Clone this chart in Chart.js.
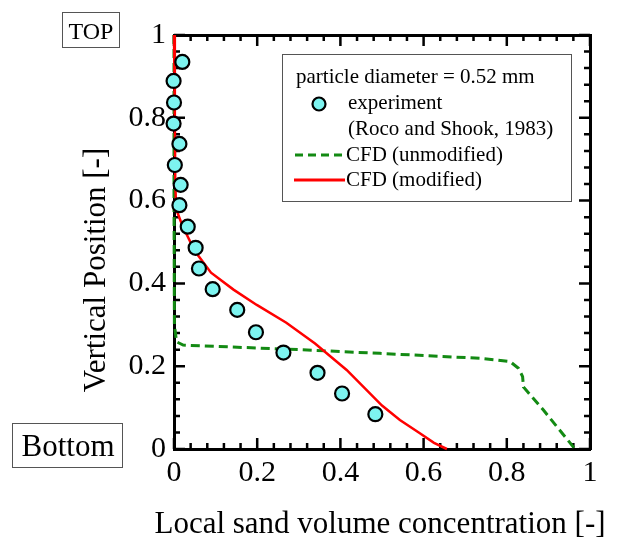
<!DOCTYPE html>
<html>
<head>
<meta charset="utf-8">
<script src="https://cdn.jsdelivr.net/npm/chart.js@4.4.0/dist/chart.umd.min.js"></script>
<style>
  body { margin: 0; background: #fff; }
  #wrap { width: 621px; height: 540px; }
</style>
</head>
<body>
<div id="wrap"><canvas id="chart" width="621" height="540"></canvas></div>
<script>
// Experiment (Roco and Shook, 1983)
const expX = [0.020, -0.001, 0.000, -0.001, 0.013, 0.002, 0.016, 0.013, 0.033, 0.052, 0.060, 0.093, 0.152, 0.197, 0.263, 0.345, 0.404, 0.484];
const expY = [0.935, 0.889, 0.837, 0.786, 0.737, 0.686, 0.638, 0.589, 0.537, 0.486, 0.436, 0.386, 0.336, 0.282, 0.233, 0.184, 0.134, 0.084];

// CFD (modified)
const modX = [0.000, 0.002, 0.003, 0.005, 0.020, 0.050, 0.089, 0.143, 0.199, 0.270, 0.339, 0.415, 0.500, 0.543, 0.591, 0.625, 0.656];
const modY = [1.000, 0.800, 0.650, 0.580, 0.540, 0.478, 0.426, 0.385, 0.348, 0.305, 0.255, 0.191, 0.105, 0.070, 0.038, 0.015, 0.000];

// CFD (unmodified)
const unmodX = [0.000, 0.000, 0.001, 0.006, 0.022, 0.300, 0.495, 0.736, 0.808, 0.828, 0.838, 0.840, 0.888, 0.964];
const unmodY = [1.000, 0.600, 0.300, 0.259, 0.251, 0.240, 0.231, 0.219, 0.211, 0.195, 0.175, 0.150, 0.094, 0.000];

const tickValues = [0, 0.2, 0.4, 0.6, 0.8, 1];

const serif = '"Liberation Serif", "Times New Roman", serif';

function pts(xs, ys) {
    return xs.map((x, i) => ({ x: x, y: ys[i] }));
}

function fmt(v) {
    return String(Math.round(v * 10) / 10);
}

// Inward ticks on all four sides
const tickMarks = {
    id: 'tickMarks',
    beforeDatasetsDraw(chart) {
        const { ctx, chartArea: a, scales } = chart;
        ctx.save();
        ctx.strokeStyle = '#000';
        ctx.lineWidth = 2.5;
        for (let i = 0; i <= 25; i++) {
            const v = i * 0.04;
            const major = i % 5 === 0;
            const len = major ? 11 : 6;
            const px = scales.x.getPixelForValue(v);
            const py = scales.y.getPixelForValue(v);
            ctx.beginPath();
            ctx.moveTo(px, a.bottom); ctx.lineTo(px, a.bottom - len);
            ctx.moveTo(px, a.top); ctx.lineTo(px, a.top + len);
            ctx.moveTo(a.left, py); ctx.lineTo(a.left + len, py);
            ctx.moveTo(a.right, py); ctx.lineTo(a.right - len, py);
            ctx.stroke();
        }
        ctx.restore();
    }
};

// Titles, TOP/Bottom labels and legend box
const decorations = {
    id: 'decorations',
    afterDraw(chart) {
        const { ctx, chartArea: a } = chart;
        ctx.save();
        ctx.fillStyle = '#000';

        // axis titles
        ctx.font = '31px ' + serif;
        ctx.textAlign = 'center';
        ctx.textBaseline = 'alphabetic';
        ctx.fillText('Local sand volume concentration [-]', 380, 533);
        ctx.save();
        ctx.translate(105, 270);
        ctx.rotate(-Math.PI / 2);
        ctx.fillText('Vertical Position [-]', 0, 0);
        ctx.restore();

        // TOP / Bottom boxes
        ctx.strokeStyle = '#555';
        ctx.lineWidth = 1;
        ctx.strokeRect(62.5, 12.5, 57, 35);
        ctx.strokeRect(12.5, 423.5, 110, 44);
        ctx.font = '24px ' + serif;
        ctx.fillText('TOP', 91, 39);
        ctx.font = '31px ' + serif;
        ctx.fillText('Bottom', 68, 456);

        // legend
        ctx.strokeRect(282.5, 54.5, 289, 147);
        ctx.font = '21px ' + serif;
        ctx.textAlign = 'left';
        ctx.textBaseline = 'middle';
        ctx.fillText('particle diameter = 0.52 mm', 296, 77);
        ctx.fillText('experiment', 348, 103);
        ctx.fillText('(Roco and Shook, 1983)', 348, 129);
        ctx.fillText('CFD (unmodified)', 346, 155);
        ctx.fillText('CFD (modified)', 346, 180);

        ctx.beginPath();
        ctx.arc(319, 104, 6.5, 0, Math.PI * 2);
        ctx.fillStyle = '#7df4f0';
        ctx.fill();
        ctx.lineWidth = 2.2;
        ctx.strokeStyle = '#000';
        ctx.stroke();

        ctx.lineWidth = 3;
        ctx.strokeStyle = '#138a13';
        ctx.setLineDash([8, 5]);
        ctx.beginPath();
        ctx.moveTo(295, 155); ctx.lineTo(345, 155);
        ctx.stroke();
        ctx.setLineDash([]);
        ctx.strokeStyle = '#ff0000';
        ctx.beginPath();
        ctx.moveTo(294, 180); ctx.lineTo(345, 180);
        ctx.stroke();

        ctx.restore();
    }
};

const axisBorder = { display: true, color: '#000', width: 3 };

new Chart(document.getElementById('chart'), {
    type: 'scatter',
    data: {
        datasets: [
            {
                label: 'experiment (Roco and Shook, 1983)',
                data: pts(expX, expY),
                pointRadius: 7,
                pointBackgroundColor: '#7df4f0',
                pointBorderColor: '#000',
                pointBorderWidth: 2.2,
                showLine: false,
                clip: false
            },
            {
                label: 'CFD (modified)',
                data: pts(modX, modY),
                showLine: true,
                borderColor: '#ff0000',
                borderWidth: 2.5,
                pointRadius: 0,
                clip: false
            },
            {
                label: 'CFD (unmodified)',
                data: pts(unmodX, unmodY),
                showLine: true,
                borderColor: '#138a13',
                borderWidth: 3,
                borderDash: [9, 5],
                pointRadius: 0,
                clip: false
            }
        ]
    },
    options: {
        responsive: false,
        animation: false,
        layout: { padding: 0 },
        plugins: { legend: { display: false }, tooltip: { enabled: false } },
        scales: {
            x: {
                type: 'linear', position: 'bottom', min: 0, max: 1,
                afterFit: s => { s.height = 91; },
                afterBuildTicks: s => { s.ticks = tickValues.map(v => ({ value: v })); },
                ticks: {
                    color: '#000', padding: 6,
                    font: { family: serif, size: 30 },
                    callback: v => fmt(v)
                },
                grid: { drawOnChartArea: false, drawTicks: false },
                border: axisBorder
            },
            x2: {
                type: 'linear', position: 'top', min: 0, max: 1,
                afterFit: s => { s.height = 35; },
                ticks: { display: false },
                grid: { drawOnChartArea: false, drawTicks: false },
                border: axisBorder
            },
            y: {
                type: 'linear', position: 'left', min: 0, max: 1,
                afterFit: s => { s.width = 174; },
                afterBuildTicks: s => { s.ticks = tickValues.map(v => ({ value: v })); },
                ticks: {
                    color: '#000', padding: 8,
                    font: { family: serif, size: 30 },
                    callback: v => fmt(v)
                },
                grid: { drawOnChartArea: false, drawTicks: false },
                border: axisBorder
            },
            y2: {
                type: 'linear', position: 'right', min: 0, max: 1,
                afterFit: s => { s.width = 31; },
                ticks: { display: false },
                grid: { drawOnChartArea: false, drawTicks: false },
                border: axisBorder
            }
        }
    },
    plugins: [tickMarks, decorations]
});
</script>
</body>
</html>
